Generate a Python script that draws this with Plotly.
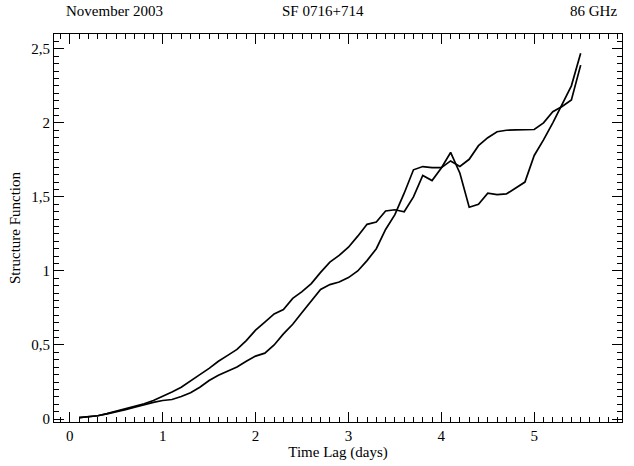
import plotly.graph_objects as go

time_lag = [0.1, 0.2, 0.3, 0.4, 0.5, 0.6, 0.7, 0.8, 0.9, 1.0,
            1.1, 1.2, 1.3, 1.4, 1.5, 1.6, 1.7, 1.8, 1.9, 2.0,
            2.1, 2.2, 2.3, 2.4, 2.5, 2.6, 2.7, 2.8, 2.9, 3.0,
            3.1, 3.2, 3.3, 3.4, 3.5, 3.6, 3.7, 3.8, 3.9, 4.0,
            4.1, 4.2, 4.3, 4.4, 4.5, 4.6, 4.7, 4.8, 4.9, 5.0,
            5.1, 5.2, 5.3, 5.4, 5.5]

sf_first = [0.01, 0.015, 0.022, 0.037, 0.053, 0.066, 0.082, 0.103, 0.125, 0.152,
            0.183, 0.215, 0.255, 0.30, 0.342, 0.39, 0.43, 0.47, 0.53, 0.60,
            0.655, 0.71, 0.74, 0.815, 0.86, 0.915, 0.99, 1.06, 1.105, 1.16,
            1.235, 1.315, 1.33, 1.405, 1.413, 1.40, 1.50, 1.645, 1.61, 1.695,
            1.80, 1.66, 1.43, 1.45, 1.525, 1.515, 1.52, 1.56, 1.60, 1.78,
            1.885, 2.0, 2.12, 2.25, 2.47]

sf_second = [0.01, 0.015, 0.022, 0.035, 0.052, 0.064, 0.08, 0.098, 0.112, 0.125,
             0.132, 0.152, 0.178, 0.215, 0.26, 0.296, 0.322, 0.352, 0.39, 0.425,
             0.445, 0.50, 0.575, 0.64, 0.72, 0.80, 0.875, 0.908, 0.925, 0.955,
             1.00, 1.07, 1.15, 1.28, 1.38, 1.525, 1.683, 1.705, 1.698, 1.698,
             1.743, 1.705, 1.754, 1.846, 1.90, 1.94, 1.95, 1.952, 1.953, 1.955,
             2.0, 2.075, 2.11, 2.155, 2.39]

x_ticks = [0, 1, 2, 3, 4, 5]
y_ticks = [0, 0.5, 1, 1.5, 2, 2.5]

FONT = "Liberation Serif"
TXT = dict(family=FONT, size=15, color="black")

fig = go.Figure()
for ys in (sf_first, sf_second):
    fig.add_trace(go.Scatter(x=time_lag, y=ys, mode="lines",
                             line=dict(color="black", width=1.7),
                             showlegend=False, hoverinfo="skip"))

axis_common = dict(showline=True, linecolor="black", linewidth=1.2, mirror="allticks",
                   ticks="inside", ticklen=10, tickwidth=1, tickcolor="black",
                   showgrid=False, zeroline=False,
                   tickfont=TXT)

fig.update_xaxes(range=[-0.17, 5.945], tickvals=x_ticks,
                 minor=dict(dtick=0.1, tick0=0, ticks="inside", ticklen=5, tickcolor="black", tickwidth=1),
                 title=dict(text="Time Lag (days)", font=TXT, standoff=0),
                 **axis_common)
fig.update_yaxes(range=[-0.02, 2.6], tickvals=y_ticks,
                 minor=dict(dtick=0.05, tick0=0, ticks="inside", ticklen=5, tickcolor="black", tickwidth=1),
                 title=dict(text="Structure Function", font=TXT, standoff=6),
                 **axis_common)

fig.update_layout(
    width=634, height=466,
    margin=dict(l=54, r=11, t=34, b=42),
    paper_bgcolor="white", plot_bgcolor="white",
    separators=",.",
    annotations=[
        dict(text="November 2003", xref="paper", yref="paper", x=0.018, y=1, xanchor="left",
             yanchor="bottom", yshift=13, showarrow=False, font=TXT),
        dict(text="SF 0716+714", xref="paper", yref="paper", x=0.473, y=1, xanchor="center",
             yanchor="bottom", yshift=13, showarrow=False, font=TXT),
        dict(text="86 GHz", xref="paper", yref="paper", x=0.995, y=1, xanchor="right",
             yanchor="bottom", yshift=13, showarrow=False, font=TXT),
    ],
)

fig.write_html("out.html")
